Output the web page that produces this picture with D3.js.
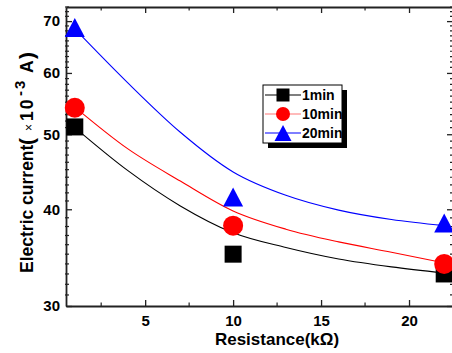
<!DOCTYPE html>
<html>
<head>
<meta charset="utf-8">
<script src="https://cdn.jsdelivr.net/npm/d3@7"></script>
<style>
  body { margin: 0; background: #fff; }
  svg text { font-family: "Liberation Sans", Arial, sans-serif; font-weight: bold; }
</style>
</head>
<body>
<svg id="chart" width="452" height="353"></svg>
<script>
// measured points
const resist = [1, 10, 22];
const cur1 = [51.1, 35.0, 33.0];
const cur10 = [54.1, 38.1, 34.0];
const cur20 = [68.7, 41.5, 38.4];

// fitted curves
const fitX = [1, 4, 7, 10, 13, 16, 19, 22];
const fit1 = [51.0, 44.9, 40.4, 37.3, 35.7, 34.5, 33.7, 33.1];
const fit10 = [54.2, 47.9, 43.5, 39.8, 37.7, 36.3, 35.2, 34.1];
const fit20 = [68.4, 58.3, 50.3, 44.7, 41.7, 39.9, 38.8, 38.1];

const seriesNames = ['1min', '10min', '20min'];
const xTicks = [5, 10, 15, 20];
const yTicks = [30, 40, 50, 60, 70];

const svg = d3.select('#chart');
const mLeft = 66, mRight = 453, mTop = 7, mBottom = 306;

const x = d3.scaleLinear().domain([0.5, 22.5]).range([mLeft, mRight]);
const y = d3.scaleLog().domain([30, 73]).range([mBottom, mTop]);

const axisColor = '#222';

// minor ticks
const xMinor = d3.range(2.5, 22.5, 5);
const yMinor = d3.range(31, 74).filter(v => yTicks.indexOf(v) < 0);

// bottom axis
const gB = svg.append('g').attr('transform', 'translate(0,' + mBottom + ')');
gB.call(d3.axisBottom(x).tickValues(xTicks).tickSizeInner(-6).tickSizeOuter(0).tickPadding(9));
gB.selectAll('.tick-minor').data(xMinor).enter().append('line')
  .attr('x1', d => x(d)).attr('x2', d => x(d)).attr('y1', 0).attr('y2', -3.5)
  .attr('stroke', axisColor).attr('stroke-width', 1.2);

// top axis
const gT = svg.append('g').attr('transform', 'translate(0,' + mTop + ')');
gT.call(d3.axisTop(x).tickValues(xTicks).tickSizeInner(-6).tickSizeOuter(0).tickFormat(''));
gT.selectAll('.tick-minor').data(xMinor).enter().append('line')
  .attr('x1', d => x(d)).attr('x2', d => x(d)).attr('y1', 0).attr('y2', 3.5)
  .attr('stroke', axisColor).attr('stroke-width', 1.2);

// left axis
const gL = svg.append('g').attr('transform', 'translate(' + mLeft + ',0)');
gL.call(d3.axisLeft(y).tickValues(yTicks).tickFormat(d3.format('d')).tickSizeInner(-6).tickSizeOuter(0).tickPadding(6));
gL.selectAll('.tick-minor').data(yMinor).enter().append('line')
  .attr('y1', d => y(d)).attr('y2', d => y(d)).attr('x1', -1).attr('x2', 3)
  .attr('stroke', axisColor).attr('stroke-width', 1.2);

// right axis
const gR = svg.append('g').attr('transform', 'translate(' + mRight + ',0)');
gR.call(d3.axisRight(y).tickValues(yTicks).tickSizeInner(-6).tickSizeOuter(0).tickFormat(''));
gR.selectAll('.tick-minor').data(yMinor).enter().append('line')
  .attr('y1', d => y(d)).attr('y2', d => y(d)).attr('x1', 0).attr('x2', -3)
  .attr('stroke', axisColor).attr('stroke-width', 1.2);

svg.selectAll('.domain').attr('stroke', axisColor).attr('stroke-width', 1.8);
svg.selectAll('.tick line').attr('stroke', axisColor).attr('stroke-width', 1.3);
svg.selectAll('.tick text').attr('fill', '#000').attr('font-size', '15px')
  .attr('font-family', '"Liberation Sans", Arial, sans-serif').attr('font-weight', 'bold');

// series
const colors = ['#000000', '#ff0000', '#0000ff'];
const fits = [fit1, fit10, fit20];
const pts = [cur1, cur10, cur20];
const shapes = ['square', 'circle', 'triangle'];

function drawMarker(g, shape, cx, cy, s, color) {
  if (shape === 'square') {
    g.append('rect').attr('x', cx - s / 2).attr('y', cy - s / 2)
      .attr('width', s).attr('height', s).attr('fill', color);
  } else if (shape === 'circle') {
    g.append('circle').attr('cx', cx).attr('cy', cy).attr('r', s / 2).attr('fill', color);
  } else {
    const w = s, h = s * 0.95;
    g.append('path')
      .attr('d', 'M' + cx + ',' + (cy - h / 2) + 'L' + (cx + w / 2) + ',' + (cy + h / 2) +
        'L' + (cx - w / 2) + ',' + (cy + h / 2) + 'Z')
      .attr('fill', color);
  }
}

const line = d3.line()
  .x(d => x(d[0]))
  .y(d => y(d[1]))
  .curve(d3.curveMonotoneX);

const gPlot = svg.append('g');
fits.forEach((f, i) => {
  gPlot.append('path')
    .datum(fitX.map((xv, k) => [xv, f[k]]))
    .attr('d', line)
    .attr('fill', 'none')
    .attr('stroke', colors[i])
    .attr('stroke-width', 1.1);
  const sizes = [17, 20, 20];
  pts[i].forEach((v, k) => drawMarker(gPlot, shapes[i], x(resist[k]), y(v), sizes[i], colors[i]));
});

// legend
const lg = svg.append('g');
lg.append('rect').attr('x', 268).attr('y', 90).attr('width', 79).attr('height', 58).attr('fill', '#000');
lg.append('rect').attr('x', 263).attr('y', 85).attr('width', 79).attr('height', 58)
  .attr('fill', '#fff').attr('stroke', '#000').attr('stroke-width', 1);
const legendLine = ['#000000', '#ff7777', '#0000ff'];
const legendSize = [13, 14, 17];
seriesNames.forEach((name, i) => {
  const ly = 95 + i * 19;
  lg.append('line').attr('x1', 265).attr('x2', 301).attr('y1', ly).attr('y2', ly)
    .attr('stroke', legendLine[i]).attr('stroke-width', 1.2);
  drawMarker(lg, shapes[i], 283, ly, legendSize[i], colors[i]);
  lg.append('text').attr('x', 302).attr('y', ly + 5).attr('font-size', '14px').text(name);
});

// axis titles
svg.append('text')
  .attr('x', 277).attr('y', 345)
  .attr('text-anchor', 'middle')
  .attr('font-size', '17px')
  .text('Resistance(kΩ)');

// rotated: text x = -screen y
const yt = svg.append('text')
  .attr('transform', 'translate(33,0) rotate(-90)')
  .attr('font-size', '17.5px');
yt.append('tspan').attr('x', -273).attr('y', 0).text('Electric current');
yt.append('tspan').attr('x', -145).attr('y', 1).attr('font-size', '21px').text('(');
yt.append('tspan').attr('x', -131).attr('y', 0).attr('font-weight', 'normal').attr('font-size', '12px').text('×');
yt.append('tspan').attr('x', -121).attr('y', 0).attr('letter-spacing', '2px').text('10');
yt.append('tspan').attr('x', -96).attr('y', -8).attr('font-size', '15px').attr('letter-spacing', '2px').text('-3');
yt.append('tspan').attr('x', -73).attr('y', 0).text('A');
yt.append('tspan').attr('x', -59).attr('y', 1).attr('font-size', '21px').text(')');
</script>
</body>
</html>
